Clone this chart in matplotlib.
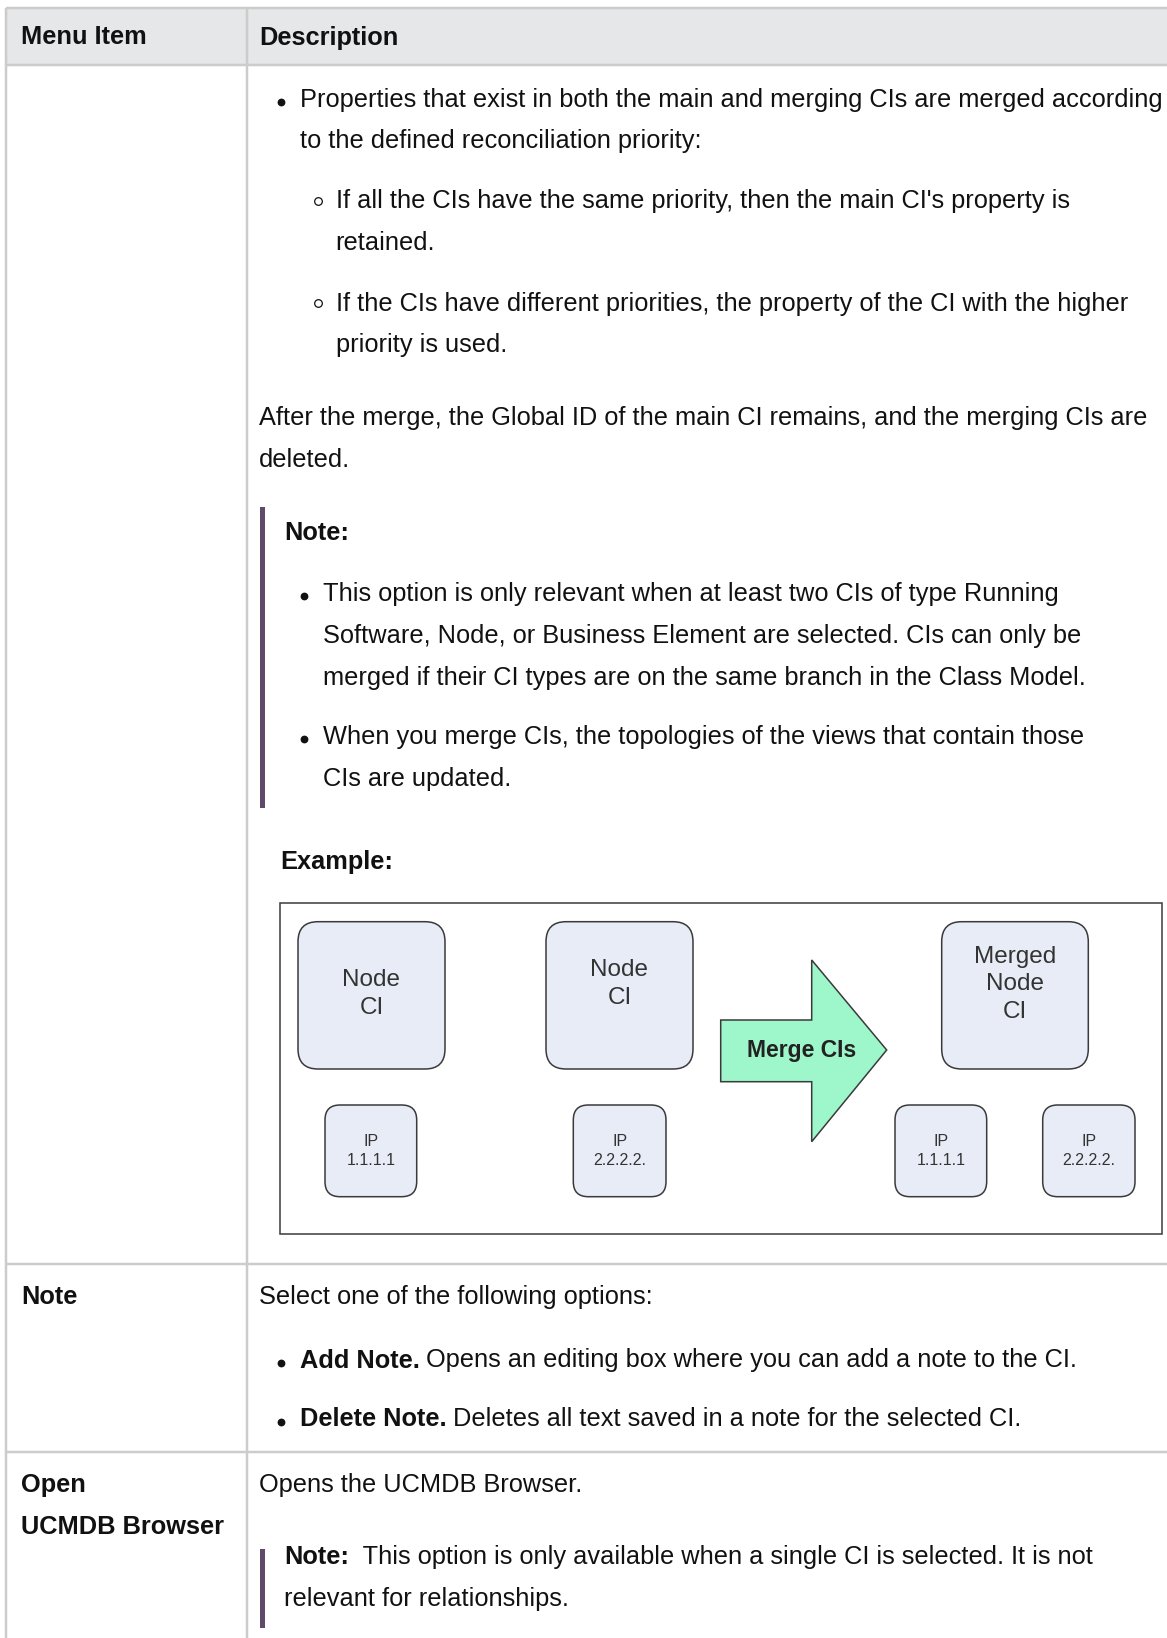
import matplotlib
matplotlib.use("Agg")
import matplotlib.pyplot as plt
from matplotlib.patches import FancyBboxPatch, Polygon, Rectangle

plt.rcParams['font.family'] = ['Liberation Sans', 'DejaVu Sans']

W, H = 1167, 1638

# ---- table text ----
headers = ["Menu Item", "Description"]
menu_items = ["Note", "Open", "UCMDB Browser"]

merge_bullet = ["Properties that exist in both the main and merging CIs are merged according",
                "to the defined reconciliation priority:"]
merge_sub = [["If all the CIs have the same priority, then the main CI's property is", "retained."],
             ["If the CIs have different priorities, the property of the CI with the higher",
              "priority is used."]]
after_merge = ["After the merge, the Global ID of the main CI remains, and the merging CIs are",
               "deleted."]
note_title = "Note:"
note_bullets = [["This option is only relevant when at least two CIs of type Running",
                 "Software, Node, or Business Element are selected. CIs can only be",
                 "merged if their CI types are on the same branch in the Class Model."],
                ["When you merge CIs, the topologies of the views that contain those",
                 "CIs are updated."]]
example_label = "Example:"

note_intro = "Select one of the following options:"
note_options = [("Add Note.", " Opens an editing box where you can add a note to the CI."),
                ("Delete Note.", " Deletes all text saved in a note for the selected CI.")]
browser_intro = "Opens the UCMDB Browser."
browser_note_bold = "Note:"
browser_note = ["  This option is only available when a single CI is selected. It is not",
                "relevant for relationships."]

# ---- diagram text ----
source_nodes = ["Node\nCI", "Node\nCI"]
source_ips = ["IP\n1.1.1.1", "IP\n2.2.2.2."]
merged_node = "Merged\nNode\nCI"
merged_ips = ["IP\n1.1.1.1", "IP\n2.2.2.2."]
arrow_label = "Merge CIs"

FS = 18.3        # body font size (pt)
TXT = '#111111'
GRID = '#cccccc'
BAR = '#5f4a6c'
BOX_FC = '#e8ecf6'
BOX_EC = '#3a3a3a'
DTXT = '#333333'
LH = 41.8        # line height px
BL = 8.5         # center -> baseline offset

fig = plt.figure(figsize=(W / 100, H / 100), dpi=100)
ax = fig.add_axes([0, 0, 1, 1])
ax.set_xlim(0, W)
ax.set_ylim(H, 0)
ax.axis('off')


def txt(x, y, s, bold=False, size=FS, color=TXT):
    return ax.text(x, y + BL, s, fontsize=size, color=color,
                   fontweight='bold' if bold else 'normal', ha='left', va='baseline')


def mixed(x, y, bold_s, rest):
    t = txt(x, y, bold_s, bold=True)
    ax.annotate(rest, xy=(1, y + BL), xycoords=(t, 'data'), fontsize=FS,
                color=TXT, ha='left', va='baseline')


def dot(x, y):
    ax.plot(x, y, 'o', ms=4.6, color=TXT, mec=TXT)


def ring(x, y):
    ax.plot(x, y, 'o', ms=5.5, mfc='white', mec=TXT, mew=0.9)


# ---- table frame ----
ax.add_patch(Rectangle((6, 7.5), W, 65 - 7.5, fc='#e5e7e8', ec='none', zorder=0))
glw = 2.5 * 0.72
for yy in [7.5, 65, 1264, 1452]:
    ax.plot([6, W], [yy, yy], color=GRID, lw=glw, solid_capstyle='butt')
for xx in [6, 246.5]:
    ax.plot([xx, xx], [7.5, H], color=GRID, lw=glw, solid_capstyle='butt')

txt(21, 36, headers[0], bold=True)
txt(259, 36, headers[1], bold=True)

# ---- row 1: merge ----
for i, s in enumerate(merge_bullet):
    txt(299.5, 98 + i * LH, s)
dot(281, 101.5)

sub_y = [199.6, 302]
for k, lines in enumerate(merge_sub):
    ring(318, sub_y[k] + 1)
    for i, s in enumerate(lines):
        txt(335.5, sub_y[k] + i * LH, s)

for i, s in enumerate(after_merge):
    txt(259, 416.9 + i * LH, s)

ax.add_patch(Rectangle((260, 507), 5, 301, fc=BAR, ec='none'))
txt(284, 531, note_title, bold=True)
nb_y = [592.4, 735.5]
for k, lines in enumerate(note_bullets):
    dot(304, nb_y[k] + 3.5)
    for i, s in enumerate(lines):
        txt(323, nb_y[k] + i * LH, s)

txt(280, 860, example_label, bold=True)

# ---- diagram ----
ax.add_patch(Rectangle((279.5, 903), 1162 - 279.5, 1234 - 903, fc='white', ec=BOX_EC, lw=1.1))


def rbox(x0, y0, x1, y1, r, label, fs, dy=0, ls=1.2):
    ax.add_patch(FancyBboxPatch((x0, y0), x1 - x0, y1 - y0,
                                boxstyle=f"round,pad=0,rounding_size={r}",
                                fc=BOX_FC, ec=BOX_EC, lw=1.1))
    ax.text((x0 + x1) / 2, (y0 + y1) / 2 + dy, label, fontsize=fs, color=DTXT,
            ha='center', va='center', linespacing=ls)


def link(pts):
    xs, ys = zip(*pts)
    ax.plot(xs, ys, color=BOX_EC, lw=1.1, zorder=0.5)


big = [(298, 921.7, 445, 1069), (546, 921.7, 693, 1069)]
small = [(325, 1105, 416.7, 1196.7), (573.3, 1105, 666, 1196.7)]
for k in range(2):
    bx, sx = big[k], small[k]
    cx = (bx[0] + bx[2]) / 2
    link([(cx, bx[3]), (cx, sx[1])])
    rbox(*bx, 20, source_nodes[k], 17.5, dy=-1 if k == 0 else -11, ls=1.34)
    rbox(*sx, 15, source_ips[k], 11.5, ls=1.3)

mb = (941.7, 921.7, 1088.3, 1069)
ms = [(895, 1105, 986.7, 1196.7), (1042.7, 1105, 1135, 1196.7)]
mcx = (mb[0] + mb[2]) / 2
link([(mcx, mb[3]), (mcx, 1088.3)])
link([(940.8, 1105), (940.8, 1088.3), (1088.8, 1088.3), (1088.8, 1105)])
rbox(*mb, 20, merged_node, 17.5, dy=-11, ls=1.34)
for k in range(2):
    rbox(*ms[k], 15, merged_ips[k], 11.5, ls=1.3)

arrow = [(720.7, 1020), (811.7, 1020), (811.7, 960), (886.7, 1050),
         (811.7, 1141.7), (811.7, 1081.7), (720.7, 1081.7)]
ax.add_patch(Polygon(arrow, closed=True, fc='#9df7ca', ec=BOX_EC, lw=1.1))
ax.text(802, 1050, arrow_label, fontsize=16.5, fontweight='bold', color='#222222',
        ha='center', va='center')

# ---- row 2: note ----
txt(21, 1295.6, menu_items[0], bold=True)
txt(259, 1295.6, note_intro)
opt_y = [1359, 1418]
for k, (b, r) in enumerate(note_options):
    dot(281, opt_y[k] + 3.5)
    mixed(299.5, opt_y[k], b, r)

# ---- row 3: browser ----
txt(21, 1483.6, menu_items[1], bold=True)
txt(21, 1525.4, menu_items[2], bold=True)
txt(259, 1483.6, browser_intro)
ax.add_patch(Rectangle((260, 1549), 5, 79, fc=BAR, ec='none'))
mixed(284, 1555.7, browser_note_bold, browser_note[0])
txt(284, 1555.7 + LH, browser_note[1])

fig.savefig('out.png', dpi=100)
